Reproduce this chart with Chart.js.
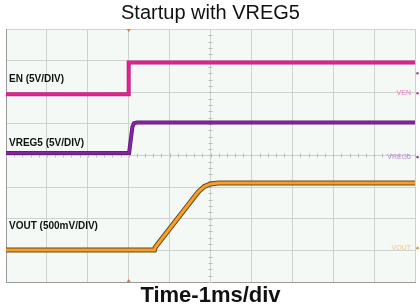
<!DOCTYPE html>
<html>
<head>
<meta charset="utf-8">
<script src="https://cdn.jsdelivr.net/npm/chart.js@4/dist/chart.umd.min.js"></script>
<style>
  html, body { margin: 0; padding: 0; background: #ffffff; }
  #c { display: block; }
</style>
</head>
<body>
<canvas id="c" width="420" height="308"></canvas>
<script>
// ---- Data (time in ms = divisions, level in screen divisions 0..8) ----
const chartTitle = "Startup with VREG5";
const xAxisTitle = "Time-1ms/div";
const traceLabels = ["EN (5V/DIV)", "VREG5 (5V/DIV)", "VOUT (500mV/DIV)"];
const refLabels = ["VEN", "VREG5", "VOUT"];
const refLevels = [5.97, 3.95, 1.07];        // ground reference markers (div)
const labelLevels = [6.4, 4.4, 1.75];         // where trace names sit (div)

const enTime  = [0, 3.0, 3.0, 10];
const enLevel = [5.94, 5.94, 6.94, 6.94];

const vregTime  = [0, 3.01, 3.05, 3.09, 3.13, 3.2, 10];
const vregLevel = [4.08, 4.08, 4.5, 4.9, 5.02, 5.04, 5.04];

const voutTime  = [0, 3.63, 3.65, 4.7, 4.85, 5.0, 5.2, 10];
const voutLevel = [1.01, 1.01, 1.1, 2.85, 3.02, 3.1, 3.13, 3.13];

const xMin = 0, xMax = 10, yMin = 0, yMax = 8;

function pts(t, v) { return t.map((x, i) => ({ x: x, y: v[i] })); }

const FONT = "'Liberation Sans', Arial, sans-serif";

const decor = {
  id: 'decor',
  beforeDatasetsDraw(chart) {
    const { ctx, chartArea: a, scales: { x, y } } = chart;
    ctx.save();
    ctx.strokeStyle = '#b8bcb8';
    ctx.lineWidth = 1;
    const cx = x.getPixelForValue(5), cy = y.getPixelForValue(4);
    for (let v = yMin; v <= yMax; v += 0.2) {
      const p = Math.round(y.getPixelForValue(v)) + 0.5;
      ctx.beginPath(); ctx.moveTo(cx - 2, p); ctx.lineTo(cx + 2, p); ctx.stroke();
    }
    for (let v = xMin; v <= xMax; v += 0.2) {
      const p = Math.round(x.getPixelForValue(v)) + 0.5;
      ctx.beginPath(); ctx.moveTo(p, cy - 2); ctx.lineTo(p, cy + 2); ctx.stroke();
    }
    ctx.restore();
  },
  beforeDraw(chart) {
    const { ctx, chartArea: a } = chart;
    ctx.save();
    ctx.fillStyle = '#f4f9f6';
    ctx.fillRect(a.left, a.top, a.right - a.left, a.bottom - a.top);
    ctx.restore();
  },
  afterDatasetsDraw(chart) {
    const { ctx, chartArea: a, scales: { x, y } } = chart;
    ctx.save();
    ctx.fillStyle = '#111111';
    ctx.font = "bold 10px " + FONT;
    ctx.textBaseline = 'middle';
    ctx.textAlign = 'left';
    traceLabels.forEach((t, i) => ctx.fillText(t, a.left + 3, y.getPixelForValue(labelLevels[i])));
    const refCols = ['#e27cc2', '#b48ccc', '#f2c47a'];
    const dotCols = ['#d6339f', '#8e3aa8', '#e89a2a'];
    ctx.font = "7px " + FONT;
    ctx.textAlign = 'right';
    refLabels.forEach((t, i) => {
      const py = y.getPixelForValue(refLevels[i]);
      ctx.fillStyle = refCols[i];
      ctx.fillText(t, a.right - 4, py);
      ctx.fillStyle = dotCols[i];
      ctx.beginPath(); ctx.arc(a.right + 2.5, py, 1.3, 0, Math.PI * 2); ctx.fill();
    });
    ctx.fillStyle = '#d6339f';
    ctx.beginPath(); ctx.arc(a.right + 2.5, y.getPixelForValue(6.6), 1.3, 0, Math.PI * 2); ctx.fill();
    const tx = x.getPixelForValue(3.0);
    ctx.fillStyle = '#e8742a';
    ctx.beginPath(); ctx.moveTo(tx - 2, a.top); ctx.lineTo(tx + 2, a.top); ctx.lineTo(tx, a.top + 3); ctx.fill();
    ctx.beginPath(); ctx.moveTo(tx - 2, a.bottom); ctx.lineTo(tx + 2, a.bottom); ctx.lineTo(tx, a.bottom - 3); ctx.fill();
    ctx.restore();
  }
};

new Chart(document.getElementById('c'), {
  type: 'line',
  data: {
    datasets: [
      { data: pts(voutTime, voutLevel), borderColor: '#6a4814', borderWidth: 5, pointRadius: 0, tension: 0, order: 6 },
      { data: pts(voutTime, voutLevel), borderColor: '#f2a12e', borderWidth: 3, pointRadius: 0, tension: 0, order: 5 },
      { data: pts(vregTime, vregLevel), borderColor: '#5a1a72', borderWidth: 4, pointRadius: 0, tension: 0, order: 4 },
      { data: pts(vregTime, vregLevel), borderColor: '#8a22a8', borderWidth: 2.5, pointRadius: 0, tension: 0, order: 3 },
      { data: pts(enTime, enLevel), borderColor: '#b8237c', borderWidth: 4, pointRadius: 0, tension: 0, order: 2 },
      { data: pts(enTime, enLevel), borderColor: '#ec1e92', borderWidth: 2.5, pointRadius: 0, tension: 0, order: 1 }
    ]
  },
  options: {
    responsive: false,
    animation: false,
    devicePixelRatio: 1,
    layout: { padding: { left: 6, right: 5, top: 0, bottom: 0 } },
    plugins: {
      legend: { display: false },
      tooltip: { enabled: false },
      title: {
        display: true,
        text: chartTitle,
        color: '#111111',
        font: { family: FONT, size: 20, weight: 'normal', lineHeight: 1.2 },
        padding: { top: 1, bottom: 4 }
      }
    },
    scales: {
      x: {
        type: 'linear', min: xMin, max: xMax,
        ticks: { display: false, stepSize: 1 },
        grid: { color: '#cfd3cf', drawTicks: false },
        border: { color: '#9a9a9a', width: 1 },
        title: {
          display: true, text: xAxisTitle, color: '#111111',
          font: { family: FONT, size: 22, weight: 'bold', lineHeight: 1 },
          padding: { top: 3, bottom: 1 }
        }
      },
      y: {
        type: 'linear', min: yMin, max: yMax,
        ticks: { display: false, stepSize: 1 },
        grid: { color: '#cfd3cf', drawTicks: false },
        border: { color: '#9a9a9a', width: 1 }
      }
    }
  },
  plugins: [decor]
});
</script>
</body>
</html>
